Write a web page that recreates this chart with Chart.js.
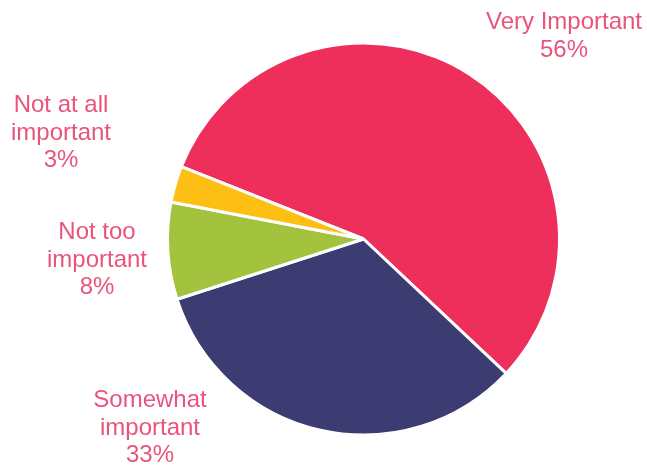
<!DOCTYPE html>
<html>
<head>
<meta charset="utf-8">
<script src="https://cdn.jsdelivr.net/npm/chart.js@4"></script>
<style>
  html, body { margin: 0; padding: 0; background: #fff; }
  #wrap { width: 647px; height: 466px; }
</style>
</head>
<body>
<div id="wrap"><canvas id="myChart" width="647" height="466"></canvas></div>
<script>
const categories = ['Very Important', 'Somewhat important', 'Not too important', 'Not at all important'];
const shares = [56, 33, 8, 3];
const sliceColors = ['#EE2E5B', '#3C3B72', '#A3C23E', '#FDBF13'];
// label text lines as printed on the chart
const labelLines = [
    ['Very Important', '56%'],
    ['Somewhat', 'important', '33%'],
    ['Not too', 'important', '8%'],
    ['Not at all', 'important', '3%']
];
// where each label block sits (center x, first baseline y)
const labelSpots = [[564, 29], [150, 407], [97, 239], [61, 112]];

const outsideLabels = {
    id: 'outsideLabels',
    afterDraw(chart) {
        const ctx = chart.ctx;
        ctx.save();
        ctx.fillStyle = '#E9547C';
        ctx.font = '24px "Liberation Sans", Arial, sans-serif';
        ctx.textAlign = 'center';
        ctx.textBaseline = 'alphabetic';
        labelLines.forEach(function (lines, i) {
            const spot = labelSpots[i];
            lines.forEach(function (line, j) {
                ctx.fillText(line, spot[0], spot[1] + j * 27.5);
            });
        });
        ctx.restore();
    }
};

const ctx = document.getElementById('myChart').getContext('2d');
const myChart = new Chart(ctx, {
    type: 'pie',
    data: {
        labels: categories,
        datasets: [{
            data: shares,
            backgroundColor: sliceColors,
            borderColor: '#ffffff',
            borderWidth: 3,
            hoverOffset: 0
        }]
    },
    options: {
        responsive: false,
        animation: false,
        rotation: -68.3,
        layout: { padding: { left: 166, right: 86, top: 41, bottom: 29 } },
        plugins: {
            legend: { display: false },
            tooltip: { enabled: false }
        }
    },
    plugins: [outsideLabels]
});
</script>
</body>
</html>
